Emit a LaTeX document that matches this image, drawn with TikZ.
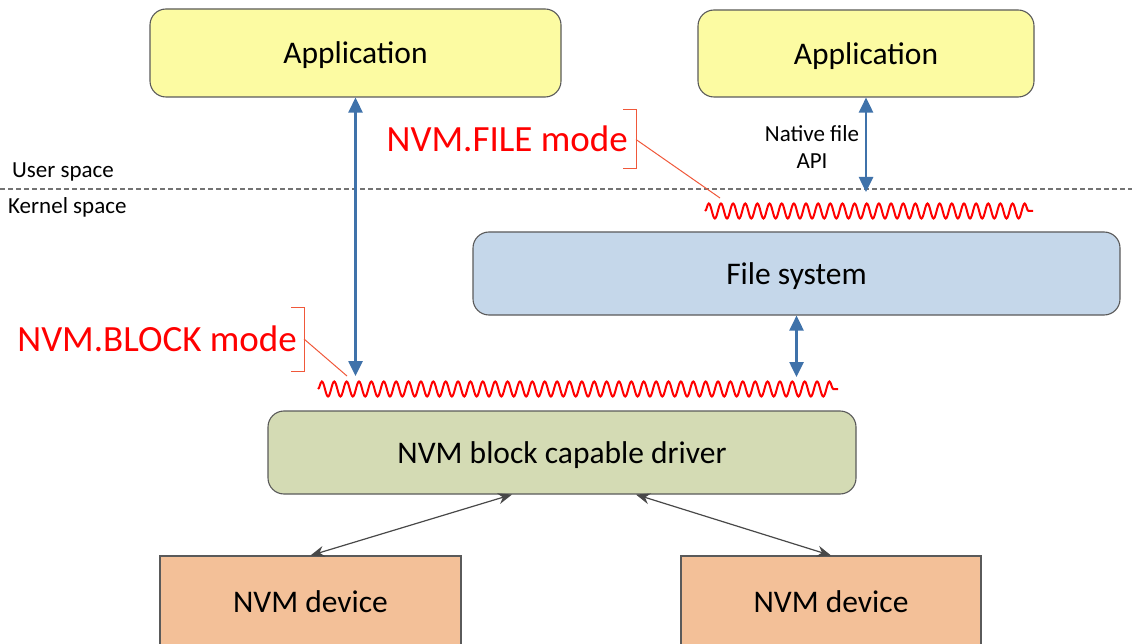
\documentclass[tikz,border=0pt]{standalone}
\usepackage{fontspec}
\setmainfont{Carlito}
\usepackage{tikz}
\usetikzlibrary{arrows.meta}
\usetikzlibrary{calc}
\usetikzlibrary{decorations.pathmorphing}
\definecolor{appfill}{HTML}{FCFBA2}
\definecolor{fsfill}{HTML}{C5D7EA}
\definecolor{drvfill}{HTML}{D4DBB4}
\definecolor{devfill}{HTML}{F3C098}
\definecolor{boxline}{HTML}{5A5A5A}
\definecolor{apiblue}{HTML}{3F72AA}
\definecolor{leader}{HTML}{F0583A}
\tikzset{
    box/.style={
        draw=boxline, line width=1.1pt, rounded corners=16pt,
        font=\fontsize{31.5}{36}\selectfont, inner sep=0pt, text depth=0pt
    },
    device/.style={box, rounded corners=0pt, fill=devfill},
    api/.style={
        apiblue, line width=2.6pt,
        {Triangle[width=14pt,length=15pt]}-{Triangle[width=14pt,length=15pt]}
    },
    link/.style={
        draw=boxline!80!black, line width=1.2pt,
        {Stealth[width=11pt,length=14pt]}-{Stealth[width=11pt,length=14pt]}
    },
    wave/.style={
        red, line width=2pt,
        decoration={snake, segment length=#1, amplitude=7.5pt},
        decorate
    },
    wave/.default=12.3pt,
    bracket/.style={leader, line width=1pt},
    modelabel/.style={red, font=\fontsize{37}{42}\selectfont, inner sep=0pt},
    spacelabel/.style={font=\fontsize{23}{27}\selectfont, inner sep=0pt, anchor=west}
}
% bracket on the right of a mode label, with a leader line to a wave
\newcommand{\modebracket}[4]{
	\draw[bracket] (#1-13,#2) -- (#1,#2) -- (#1,#3) -- (#1-13,#3);
	\draw[bracket] (#1,{(#2+#3)/2}) -- (#4);
}
\begin{document}
\begin{tikzpicture}[x=1pt,y=-1pt]
		\useasboundingbox (0,0) rectangle (1132,644);
		\clip (0,0) rectangle (1132,644);

		% User / kernel boundary
		\draw[gray!90!black, line width=1.1pt, dash pattern=on 5pt off 3pt] (0,189) -- (1132,189);
		\node[spacelabel] (user) at (12,172) {User space};
		\node[spacelabel] (kernel) at (8,207) {Kernel space};

		% Applications
		\node[box, fill=appfill, minimum width=411pt, minimum height=88pt] (appblock) at (355.5,53) {Application};
		\node[box, fill=appfill, minimum width=336pt, minimum height=87pt] (appfile) at (866,53.5) {Application};

		% Kernel side
		\node[box, fill=fsfill, minimum width=647pt, minimum height=83pt] (fs) at (796.5,273.5) {File system};
		\node[box, fill=drvfill, minimum width=588pt, minimum height=83pt] (driver) at (562,452.5) {NVM block capable driver};
		\node[device, minimum width=301pt, minimum height=92pt] (devleft) at (310.5,602) {NVM device};
		\node[device, minimum width=300pt, minimum height=92pt] (devright) at (831,602) {NVM device};

		% Mode interfaces
		\coordinate (filewaveL) at (705,211);
		\coordinate (filewaveR) at (1033,211);
		\coordinate (blockwaveL) at (318,389);
		\coordinate (blockwaveR) at (838,389);
		\draw[wave=12.15pt] (filewaveL) -- (filewaveR);
		\draw[wave=12.38pt] (blockwaveL) -- (blockwaveR);

		\node[modelabel, anchor=east] (filemode) at (628,139) {NVM.FILE mode};
		\node[modelabel, anchor=east] (blockmode) at (297,339) {NVM.BLOCK mode};
		\coordinate (fileleader) at (720,198);
		\coordinate (blockleader) at (347,376);
		\modebracket{636}{110}{169}{fileleader}
		\modebracket{304}{307}{371}{blockleader}

		% Calls
		\node[font=\fontsize{23}{27}\selectfont, align=center, inner sep=0pt] (native) at (812,147) {Native file\\API};
		\draw[api] (appfile.south) -- (appfile.south |- 0,192);
		\draw[api] (appblock.south) -- (appblock.south |- 0,376);
		\draw[api] (fs.south) -- (fs.south |- 0,377);
		\draw[link] ($(driver.south)+(-50,0)$) -- (devleft.north);
		\draw[link] ($(driver.south)+(74,0)$) -- (devright.north);

	\end{tikzpicture}
\end{document}
